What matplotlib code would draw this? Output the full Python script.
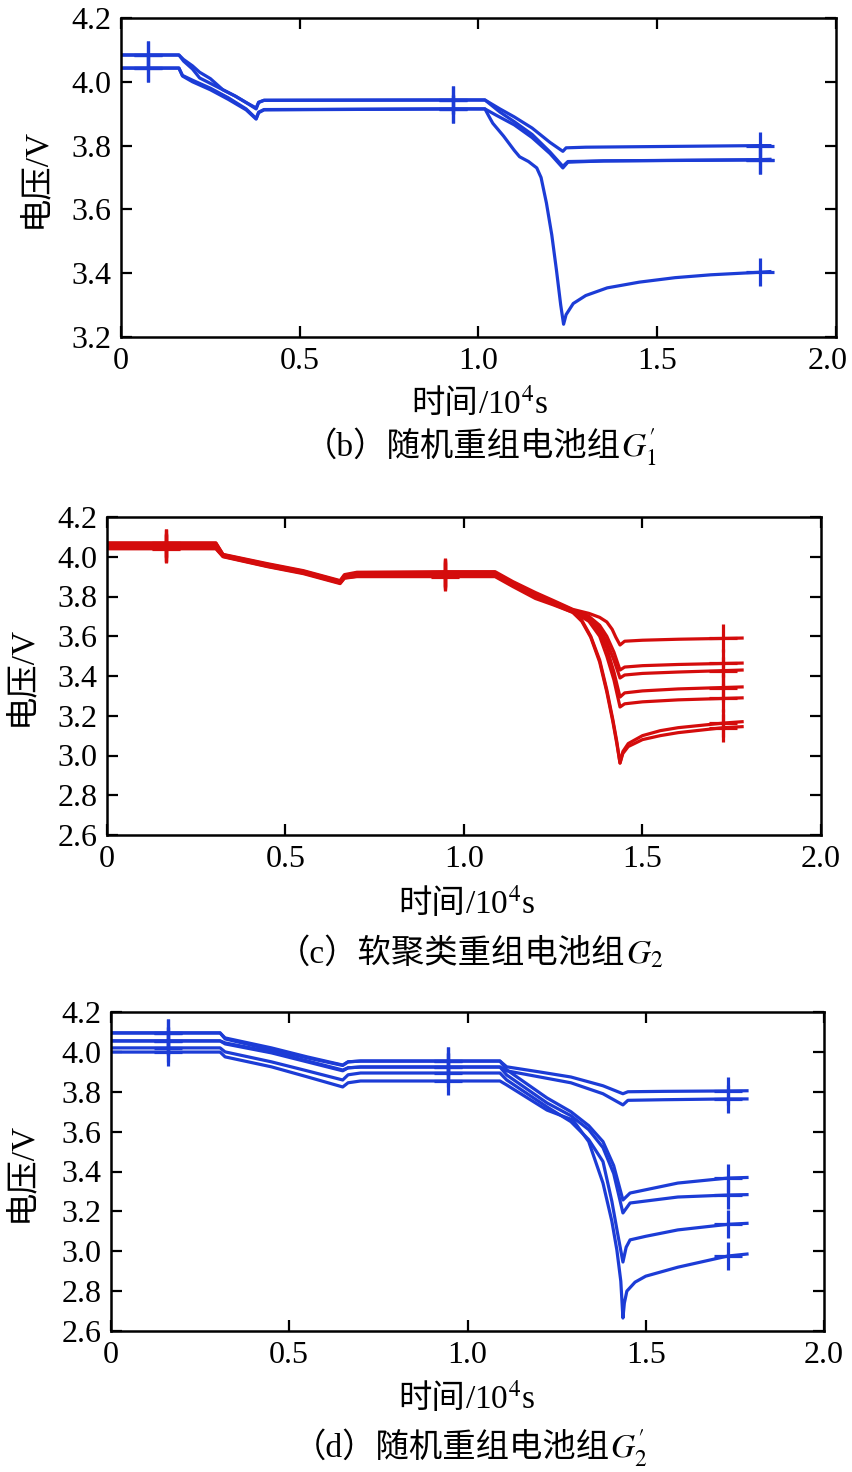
import numpy as np
import matplotlib
matplotlib.use('Agg')
import matplotlib.pyplot as plt
from matplotlib.transforms import ScaledTranslation

plt.rcParams['font.family'] = ['Liberation Serif', 'Noto Sans CJK SC']
plt.rcParams['mathtext.fontset'] = 'stix'

BLUE = '#1c3cd6'
RED = '#d40c0c'

# ---------------- (b) random regrouped pack G1' ----------------
b_mark_x = [0.075, 0.93, 1.787]
b1_x = [0, 0.075, 0.162, 0.175, 0.2, 0.22, 0.25, 0.285, 0.32, 0.35, 0.378, 0.385, 0.40, 0.93,
        1.018, 1.06, 1.1, 1.15, 1.2, 1.236, 1.245, 1.3, 1.787, 1.815]
b1_y = [4.084, 4.084, 4.084, 4.07, 4.05, 4.03, 4.01, 3.975, 3.955, 3.935, 3.915, 3.935, 3.942, 3.943,
        3.943, 3.915, 3.89, 3.855, 3.81, 3.782, 3.793, 3.795, 3.80, 3.80]
b2_x = [0, 0.075, 0.162, 0.175, 0.2, 0.22, 0.25, 0.285, 0.32, 0.35, 0.378, 0.385, 0.40, 0.93,
        1.018, 1.06, 1.1, 1.15, 1.2, 1.236, 1.25, 1.35, 1.787, 1.815]
b2_y = [4.084, 4.084, 4.084, 4.065, 4.04, 4.012, 3.995, 3.975, 3.955, 3.935, 3.918, 3.936, 3.942, 3.943,
        3.943, 3.905, 3.875, 3.835, 3.78, 3.735, 3.75, 3.752, 3.756, 3.757]
b3_x = [0, 0.075, 0.162, 0.172, 0.2, 0.25, 0.3, 0.35, 0.378, 0.385, 0.40, 0.93,
        1.018, 1.05, 1.1, 1.15, 1.2, 1.236, 1.25, 1.35, 1.787, 1.815]
b3_y = [4.043, 4.043, 4.043, 4.02, 4.005, 3.98, 3.95, 3.915, 3.885, 3.905, 3.913, 3.915,
        3.915, 3.895, 3.865, 3.825, 3.775, 3.73, 3.748, 3.752, 3.755, 3.755]
b4_x = [0, 0.075, 0.162, 0.172, 0.2, 0.25, 0.3, 0.35, 0.378, 0.385, 0.40, 0.93,
        1.018, 1.03, 1.04, 1.07, 1.10, 1.115, 1.14, 1.163, 1.175, 1.19, 1.205, 1.218, 1.23, 1.238,
        1.245, 1.265, 1.3, 1.36, 1.45, 1.55, 1.65, 1.787, 1.815]
b4_y = [4.043, 4.043, 4.043, 4.018, 4.0, 3.975, 3.945, 3.912, 3.883, 3.903, 3.912, 3.915,
        3.915, 3.89, 3.87, 3.83, 3.785, 3.765, 3.75, 3.73, 3.70, 3.62, 3.52, 3.41, 3.30, 3.24,
        3.27, 3.305, 3.33, 3.354, 3.372, 3.386, 3.395, 3.403, 3.405]

# ---------------- (c) soft-clustering regrouped pack G2 ----------------
c_mark_x = [0.165, 0.947, 1.726]
c_head_x = [0, 0.165, 0.305, 0.325, 0.45, 0.55, 0.653, 0.665, 0.70, 0.947, 1.087, 1.137, 1.2, 1.25, 1.305]
c1_head = [4.069, 4.069, 4.069, 4.012, 3.965, 3.93, 3.88, 3.91, 3.922, 3.925, 3.925, 3.875, 3.82, 3.78, 3.735]
c2_head = [4.069, 4.069, 4.069, 4.010, 3.962, 3.927, 3.877, 3.905, 3.918, 3.92, 3.92, 3.87, 3.815, 3.775, 3.732]
c3_head = [4.062, 4.062, 4.062, 4.008, 3.96, 3.925, 3.875, 3.902, 3.914, 3.916, 3.916, 3.866, 3.81, 3.772, 3.73]
c4_head = [4.05, 4.05, 4.05, 4.006, 3.958, 3.922, 3.872, 3.90, 3.91, 3.912, 3.912, 3.862, 3.806, 3.77, 3.728]
c5_head = [4.044, 4.044, 4.044, 4.004, 3.955, 3.92, 3.87, 3.897, 3.906, 3.908, 3.908, 3.858, 3.80, 3.765, 3.725]
c6_head = [4.044, 4.044, 4.044, 4.002, 3.952, 3.918, 3.868, 3.894, 3.902, 3.904, 3.904, 3.855, 3.796, 3.762, 3.72]
c7_head = [4.04, 4.04, 4.04, 4.0, 3.95, 3.915, 3.865, 3.892, 3.90, 3.90, 3.90, 3.85, 3.79, 3.758, 3.72]

c1_tail_x = [1.35, 1.38, 1.40, 1.415, 1.425, 1.437, 1.45, 1.5, 1.6, 1.726, 1.779]
c1_tail_y = [3.715, 3.695, 3.672, 3.635, 3.596, 3.556, 3.575, 3.58, 3.585, 3.589, 3.591]
c_mid_tail_x = [1.35, 1.38, 1.40, 1.42, 1.437, 1.45, 1.5, 1.6, 1.726, 1.779]
c2_tail_y = [3.70, 3.655, 3.60, 3.52, 3.43, 3.445, 3.452, 3.458, 3.463, 3.465]
c3_tail_y = [3.695, 3.64, 3.57, 3.48, 3.39, 3.405, 3.413, 3.42, 3.427, 3.43]
c4_tail_y = [3.685, 3.62, 3.54, 3.42, 3.294, 3.315, 3.325, 3.335, 3.342, 3.345]
c5_tail_y = [3.675, 3.60, 3.50, 3.38, 3.244, 3.26, 3.27, 3.28, 3.287, 3.29]
c_low_tail_x = [1.33, 1.355, 1.38, 1.40, 1.417, 1.428, 1.437, 1.445, 1.46, 1.5, 1.55, 1.6, 1.726, 1.779]
c6_tail_y = [3.68, 3.60, 3.48, 3.33, 3.18, 3.07, 2.962, 3.02, 3.06, 3.10, 3.125, 3.14, 3.163, 3.17]
c7_tail_y = [3.675, 3.595, 3.47, 3.32, 3.17, 3.06, 2.962, 3.01, 3.045, 3.08, 3.10, 3.115, 3.14, 3.145]

# ---------------- (d) random regrouped pack G2' ----------------
d_mark_x = [0.16, 0.945, 1.73]
d_head_x = [0, 0.16, 0.306, 0.32, 0.45, 0.55, 0.65, 0.665, 0.70, 0.945, 1.091, 1.11]
d1_head = [4.095, 4.095, 4.095, 4.07, 4.02, 3.975, 3.934, 3.95, 3.954, 3.954, 3.954, 3.925]
d2_head = [4.055, 4.055, 4.055, 4.045, 4.0, 3.955, 3.909, 3.92, 3.924, 3.924, 3.924, 3.905]
d3_head = [4.095, 4.095, 4.095, 4.065, 4.01, 3.97, 3.932, 3.95, 3.954, 3.954, 3.954, 3.91]
d4_head = [4.055, 4.055, 4.055, 4.04, 3.995, 3.95, 3.905, 3.92, 3.924, 3.924, 3.924, 3.884]
d5_head = [4.02, 4.02, 4.02, 4.0, 3.95, 3.905, 3.859, 3.885, 3.894, 3.894, 3.894, 3.859]
d6_head = [3.999, 3.999, 3.999, 3.975, 3.925, 3.875, 3.824, 3.845, 3.854, 3.854, 3.854, 3.834]

d_top_tail_x = [1.2, 1.29, 1.38, 1.436, 1.45, 1.55, 1.73, 1.784]
d1_tail_y = [3.90, 3.874, 3.83, 3.79, 3.80, 3.802, 3.804, 3.805]
d2_tail_y = [3.875, 3.845, 3.79, 3.734, 3.757, 3.76, 3.764, 3.764]
d_ab_tail_x = [1.223, 1.29, 1.34, 1.38, 1.41, 1.436, 1.456, 1.59, 1.73, 1.784]
d3_tail_y = [3.769, 3.70, 3.63, 3.55, 3.43, 3.257, 3.292, 3.342, 3.367, 3.37]
d4_tail_y = [3.744, 3.68, 3.61, 3.52, 3.39, 3.192, 3.242, 3.272, 3.282, 3.284]
d5_tail_x = [1.223, 1.29, 1.34, 1.38, 1.405, 1.42, 1.436, 1.445, 1.456, 1.5, 1.59, 1.73, 1.784]
d5_tail_y = [3.724, 3.65, 3.56, 3.45, 3.25, 3.10, 2.946, 3.02, 3.057, 3.075, 3.107, 3.135, 3.14]
d6_tail_x = [1.223, 1.296, 1.34, 1.38, 1.405, 1.419, 1.43, 1.436, 1.44, 1.447, 1.47, 1.5, 1.59, 1.73, 1.784]
d6_tail_y = [3.708, 3.658, 3.55, 3.342, 3.15, 3.006, 2.85, 2.665, 2.74, 2.80, 2.845, 2.875, 2.92, 2.976, 2.986]

x_ticks = [0, 0.5, 1.0, 1.5, 2.0]
x_ticklabels = ['0', '0.5', '1.0', '1.5', '2.0']

W, H = 853, 1472
fig = plt.figure(figsize=(W / 100, H / 100), dpi=100)


def make_ax(left, top, right, bottom, ylo):
    ax = fig.add_axes([left / W, 1 - bottom / H, (right - left) / W, (bottom - top) / H])
    ax.set_xlim(0, 2.0)
    ax.set_ylim(ylo, 4.2)
    ax.set_xticks(x_ticks)
    ax.set_xticklabels(x_ticklabels)
    yt = np.arange(ylo, 4.2001, 0.2)
    ax.set_yticks(yt)
    ax.set_yticklabels(['%.1f' % v for v in yt])
    ax.tick_params(direction='in', length=8, width=1.6, labelsize=23, pad=7,
                   top=True, right=True)
    for s in ax.spines.values():
        s.set_linewidth(1.8)
    return ax


def draw(ax, x, y, color, marks):
    idx = [list(x).index(m) for m in marks]
    ax.plot(x, y, color=color, lw=2.3, marker='+', markevery=idx,
            markersize=20, markeredgewidth=2.3)


# panel b
axb = make_ax(121, 18, 836, 337, 3.2)
for x, y in [(b1_x, b1_y), (b2_x, b2_y), (b3_x, b3_y), (b4_x, b4_y)]:
    draw(axb, x, y, BLUE, b_mark_x)
# last tick label sits against the figure edge, nudge it left
last = axb.get_xticklabels()[-1]
last.set_transform(last.get_transform() + ScaledTranslation(-0.08, 0, fig.dpi_scale_trans))

# panel c
axc = make_ax(107, 517, 821, 835, 2.6)
c_series = [(c1_head, c1_tail_x, c1_tail_y), (c2_head, c_mid_tail_x, c2_tail_y),
            (c3_head, c_mid_tail_x, c3_tail_y), (c4_head, c_mid_tail_x, c4_tail_y),
            (c5_head, c_mid_tail_x, c5_tail_y), (c6_head, c_low_tail_x, c6_tail_y),
            (c7_head, c_low_tail_x, c7_tail_y)]
for head, tx, ty in c_series:
    draw(axc, c_head_x + tx, head + ty, RED, c_mark_x)

# panel d
axd = make_ax(111, 1012, 824, 1331, 2.6)
d_series = [(d1_head, d_top_tail_x, d1_tail_y), (d2_head, d_top_tail_x, d2_tail_y),
            (d3_head, d_ab_tail_x, d3_tail_y), (d4_head, d_ab_tail_x, d4_tail_y),
            (d5_head, d5_tail_x, d5_tail_y), (d6_head, d6_tail_x, d6_tail_y)]
for head, tx, ty in d_series:
    draw(axd, d_head_x + tx, head + ty, BLUE, d_mark_x)

# labels: mathtext has no CJK fallback, so put the pieces side by side
renderer = fig.canvas.get_renderer()


def mixed_text(xc, ybase, pieces, size=24):
    texts = [fig.text(0, 1 - ybase / H, s, fontsize=size, ha='left', va='baseline') for s in pieces]
    widths = [t.get_window_extent(renderer).width for t in texts]
    x = xc - sum(widths) / 2
    for t, w in zip(texts, widths):
        t.set_x(x / W)
        x += w


def ylab(x, y):
    fig.text(x / W, 1 - y / H, '电压/V', rotation=90, fontsize=24, ha='center', va='center')


mixed_text(480, 413, ['时间', '/10$^4$s'])
mixed_text(480, 456, ['（b）随机重组电池组', r'$G_{1}^{\prime}$'])
ylab(36, 178)

mixed_text(467, 913, ['时间', '/10$^4$s'])
mixed_text(470, 963, ['（c）软聚类重组电池组', '$G_2$'])
ylab(22, 676)

mixed_text(467, 1408, ['时间', '/10$^4$s'])
mixed_text(470, 1457, ['（d）随机重组电池组', r'$G_{2}^{\prime}$'])
ylab(22, 1172)

fig.savefig('out.png', dpi=100)
